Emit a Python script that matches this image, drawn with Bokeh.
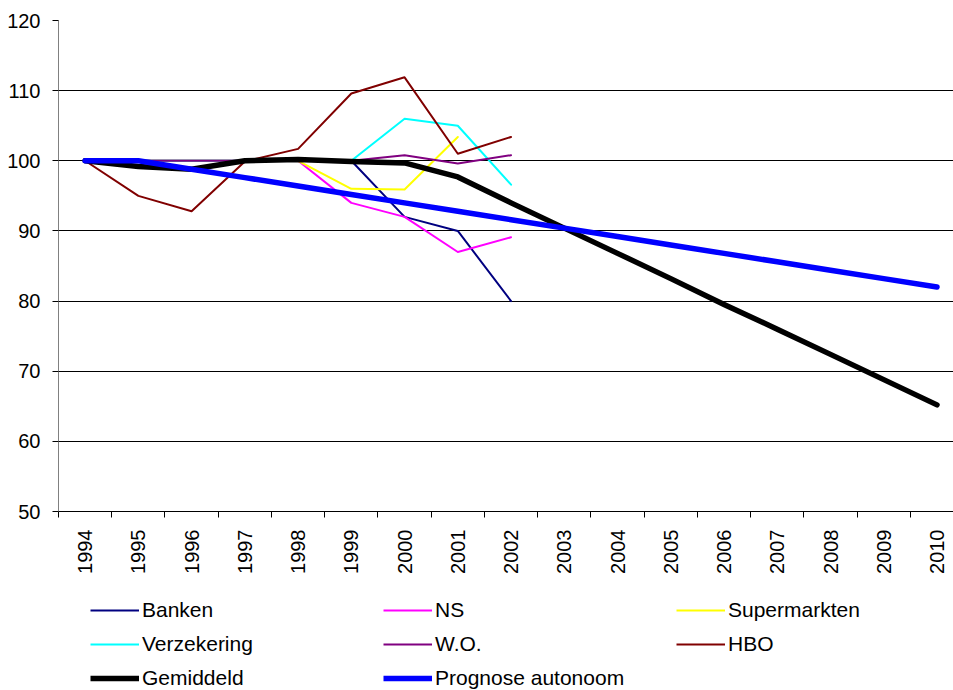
import math
from bokeh.plotting import figure
from bokeh.layouts import column
from bokeh.models import Range1d, FixedTicker, Legend, LegendItem
from bokeh.embed import file_html
from bokeh.resources import INLINE

# ---- data ----
years = list(range(1994, 2011))
year_labels = [str(y) for y in years]
banken = [100, 100, 100, 100, 100, 100, 92.0, 90.0, 80.0]
ns = [100, 100, 100, 100, 100, 94.0, 92.0, 87.0, 89.1]
supermarkten = [100, 100, 100, 100, 100, 96.0, 95.9, 103.4]
verzekering = [100, 100, 100, 100, 100, 100, 106.0, 105.0, 96.6]
wo = [100, 100, 100, 100, 100, 100, 100.8, 99.6, 100.8]
hbo = [100, 95.0, 92.8, 99.9, 101.7, 109.6, 111.9, 101.0, 103.4]
gemiddeld = [100, 99.2, 98.8, 100.0, 100.2, 99.9, 99.7, 97.7, 94.0, 90.4,
             86.8, 83.2, 79.5, 76.0, 72.4, 68.8, 65.2]
prognose = [100, 100, 98.8, 97.6, 96.4, 95.2, 94.0, 92.8, 91.6, 90.4,
            89.2, 88.0, 86.8, 85.6, 84.4, 83.2, 82.0]
y_ticks = [50, 60, 70, 80, 90, 100, 110, 120]

series = [
    ("Banken", banken, "#000080", 2),
    ("NS", ns, "#FF00FF", 2),
    ("Supermarkten", supermarkten, "#FFFF00", 2),
    ("Verzekering", verzekering, "#00FFFF", 2),
    ("W.O.", wo, "#800080", 2),
    ("HBO", hbo, "#800000", 2),
    ("Gemiddeld", gemiddeld, "#000000", 5.5),
    ("Prognose autonoom", prognose, "#0000FF", 5.5),
]

FONT = "Liberation Sans"
W = 953

p = figure(width=W, height=576, output_backend="svg", toolbar_location=None,
           x_range=Range1d(1993.5, 2010.31), y_range=Range1d(50, 120),
           min_border_left=58, min_border_top=20, min_border_right=0,
           min_border_bottom=63)
p.background_fill_color = "white"
p.border_fill_color = "white"
p.outline_line_color = None

for name, vals, color, w in series:
    p.line(years[:len(vals)], vals, line_color=color, line_width=w,
           line_join="round", line_cap="round")

# axes
p.xgrid.grid_line_color = None
p.ygrid.grid_line_color = "#000000"
p.ygrid.grid_line_width = 1

p.yaxis.ticker = FixedTicker(ticks=y_ticks)
p.yaxis.major_tick_out = 6
p.yaxis.major_tick_in = 0
p.yaxis.minor_tick_line_color = None
p.yaxis.axis_line_color = "#808080"
p.yaxis.major_tick_line_color = "#000000"
p.yaxis.major_label_text_font = FONT
p.yaxis.major_label_text_font_size = "20px"
p.yaxis.major_label_text_color = "#000000"
p.yaxis.major_label_standoff = 12

p.xaxis.ticker = FixedTicker(ticks=years,
                             minor_ticks=[y - 0.5 for y in years] + [years[-1] + 0.5])
p.xaxis.major_label_overrides = {y: l for y, l in zip(years, year_labels)}
p.xaxis.major_tick_line_color = None
p.xaxis.major_tick_out = 6
p.xaxis.major_tick_in = 0
p.xaxis.minor_tick_line_color = "#000000"
p.xaxis.minor_tick_out = 6
p.xaxis.minor_tick_in = 0
p.xaxis.axis_line_color = "#000000"
p.xaxis.major_label_orientation = math.pi / 2
p.xaxis.major_label_text_font = FONT
p.xaxis.major_label_text_font_size = "20px"
p.xaxis.major_label_text_color = "#000000"
p.xaxis.major_label_standoff = 12

# legend panel below the chart (its own ranges keep the series out of view)
pl = figure(width=W, height=114, output_backend="svg", toolbar_location=None,
            x_axis_type=None, y_axis_type=None,
            x_range=Range1d(0, 1), y_range=Range1d(0, 1),
            min_border_left=0, min_border_right=0, min_border_top=0, min_border_bottom=0)
pl.outline_line_color = None
pl.background_fill_color = "white"
pl.border_fill_color = "white"
pl.xgrid.visible = False
pl.ygrid.visible = False
items = []
for name, vals, color, w in series:
    r = pl.line(years[:len(vals)], vals, line_color=color, line_width=w)
    items.append(LegendItem(label=name, renderers=[r]))

legend = Legend(items=items, location=(32, 0), orientation="horizontal", ncols=3,
                glyph_width=49, glyph_height=20, label_height=20, label_width=231,
                label_standoff=3, spacing=10, padding=0, margin=0,
                border_line_color=None, background_fill_alpha=0,
                label_text_font=FONT, label_text_font_size="21px",
                label_text_color="#000000")
pl.add_layout(legend)

layout = column(p, pl, spacing=0)
open("out.html", "w").write(file_html(layout, INLINE))
